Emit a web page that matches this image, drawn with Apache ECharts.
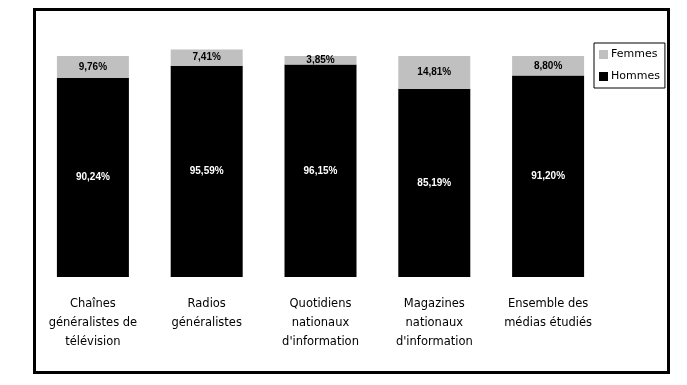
<!DOCTYPE html>
<html><head><meta charset="utf-8">
<script src="https://cdn.jsdelivr.net/npm/echarts@6/dist/echarts.min.js"></script>
<style>html,body{margin:0;padding:0;background:#fff}#c{width:687px;height:385px}</style>
</head><body><div id="c"></div>
<script>
const categories = ['Chaînes\ngénéralistes de\ntélévision','Radios\ngénéralistes','Quotidiens\nnationaux\nd\'information','Magazines\nnationaux\nd\'information','Ensemble des\nmédias étudiés'];
const hommes = [90.24, 95.59, 96.15, 85.19, 91.20];
const femmes = [9.76, 7.41, 3.85, 14.81, 8.80];
const fmt = p => p.value.toFixed(2).replace('.', ',') + '%';
const chart = echarts.init(document.getElementById('c'));
chart.setOption({
  animation: false,
  backgroundColor: '#fff',
  graphic: [{type:'rect', shape:{x:34.5,y:9.5,width:634,height:363}, style:{fill:'none', stroke:'#000', lineWidth:3}, z:100}],
  grid: {left: 36, right: 82, top: 34, bottom: 108},
  legend: {
    data: ['Femmes','Hommes'], orient: 'vertical', left: 594, top: 43, icon: 'rect',
    itemWidth: 9, itemHeight: 9, itemGap: 11, padding: [6,5,6,5],
    borderColor: '#000', borderWidth: 1,
    textStyle: {fontFamily: 'DejaVu Sans', fontSize: 11, color: '#000', padding:[0,0,0,-2]}
  },
  xAxis: {
    type: 'category', data: categories,
    axisLine: {show: false}, axisTick: {show: false},
    axisLabel: {interval: 0, margin: 18, lineHeight: 19, fontFamily: 'DejaVu Sans', fontSize: 11.5, color: '#000'}
  },
  yAxis: {type: 'value', min: 0, max: 110, show: false, splitLine: {show: false}},
  series: [
    {name: 'Hommes', type: 'bar', stack: 's', data: hommes, barWidth: 72,
     itemStyle: {color: '#000'},
     label: {show: true, position: 'inside', formatter: fmt, color: '#fff', fontWeight: 'bold', fontSize: 10, fontFamily: 'Liberation Sans'}},
    {name: 'Femmes', type: 'bar', stack: 's', data: femmes, barWidth: 72,
     itemStyle: {color: '#c0c0c0'},
     label: {show: true, position: 'inside', formatter: fmt, color: '#000', fontWeight: 'bold', fontSize: 10, fontFamily: 'Liberation Sans'}}
  ]
});
</script></body></html>
